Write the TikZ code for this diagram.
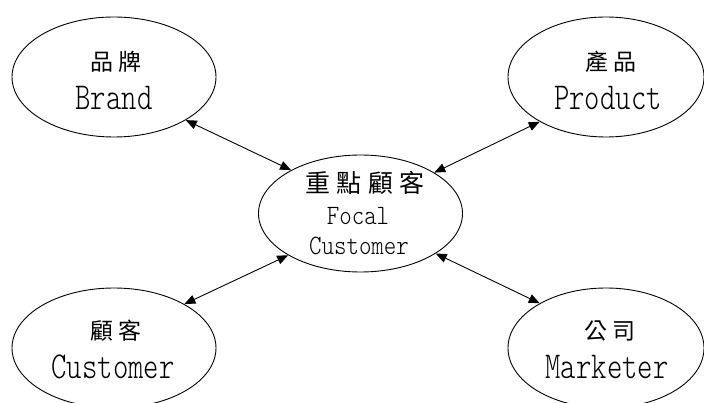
\documentclass[tikz,border=0pt]{standalone}
\usepackage{fontspec}
\usetikzlibrary{shapes.geometric,arrows.meta}
\newfontfamily\cjk[LetterSpace=25]{Noto Sans CJK TC}
\newfontfamily\latout[FakeStretch=0.77]{Latin Modern Mono Light}
\newfontfamily\latin[FakeStretch=0.85]{Latin Modern Mono Light}
\tikzset{
  oval/.style={ellipse, draw, line width=0.9pt, inner sep=0pt,
    minimum width=204pt, minimum height=120pt},
  zh/.style={anchor=base, inner sep=0pt, font=\cjk\fontsize{23}{23}\selectfont},
  zhc/.style={anchor=base, inner sep=0pt, font=\cjk\fontsize{25}{25}\selectfont},
  en/.style={anchor=base, inner sep=0pt, font=\latout\fontsize{38}{38}\selectfont},
  enc/.style={anchor=base, inner sep=0pt, font=\latin\fontsize{28}{28}\selectfont},
  link/.style={{Triangle[length=11pt,width=9pt]}-{Triangle[length=11pt,width=9pt]}, line width=0.9pt}
}
\begin{document}
\begin{tikzpicture}[x=1pt,y=-1pt]
  \useasboundingbox (0,0) rectangle (704,403);
  \begin{scope}
    \clip (0,0) rectangle (704,403);
    % the five ovals
    \node[oval] (brand) at (114,77) {};
    \node[oval, minimum width=196pt] (product) at (606,77) {};
    \node[oval, minimum height=117pt] (focal) at (360.5,213.5) {};
    \node[oval] (customer) at (114,348) {};
    \node[oval, minimum width=196pt] (marketer) at (606,348) {};
  \end{scope}

  % labels
  \node[zh] (brandzh) at (116,71) {品牌};
  \node[en] (branden) at (114,110) {Brand};
  \node[zh] (productzh) at (611,71) {產品};
  \node[en] (producten) at (608,110) {Product};
  \node[zhc] (focalzh) at (365,193) {重點顧客};
  \node[enc] (focalen) at (358,225) {Focal};
  \node[enc] (focalcu) at (359,255) {Customer};
  \node[zh] (customerzh) at (116,339) {顧客};
  \node[en] (customeren) at (113,378) {Customer};
  \node[zh] (marketerzh) at (610,339) {公司};
  \node[en] (marketeren) at (607,378) {Marketer};

  % two-way links to the focal customer
  \draw[link] (brand.-31) -- (focal.148);
  \draw[link] (product.214) -- (focal.29);
  \draw[link] (customer.32) -- (focal.210);
  \draw[link] (marketer.146) -- (focal.-28);
\end{tikzpicture}
\end{document}
